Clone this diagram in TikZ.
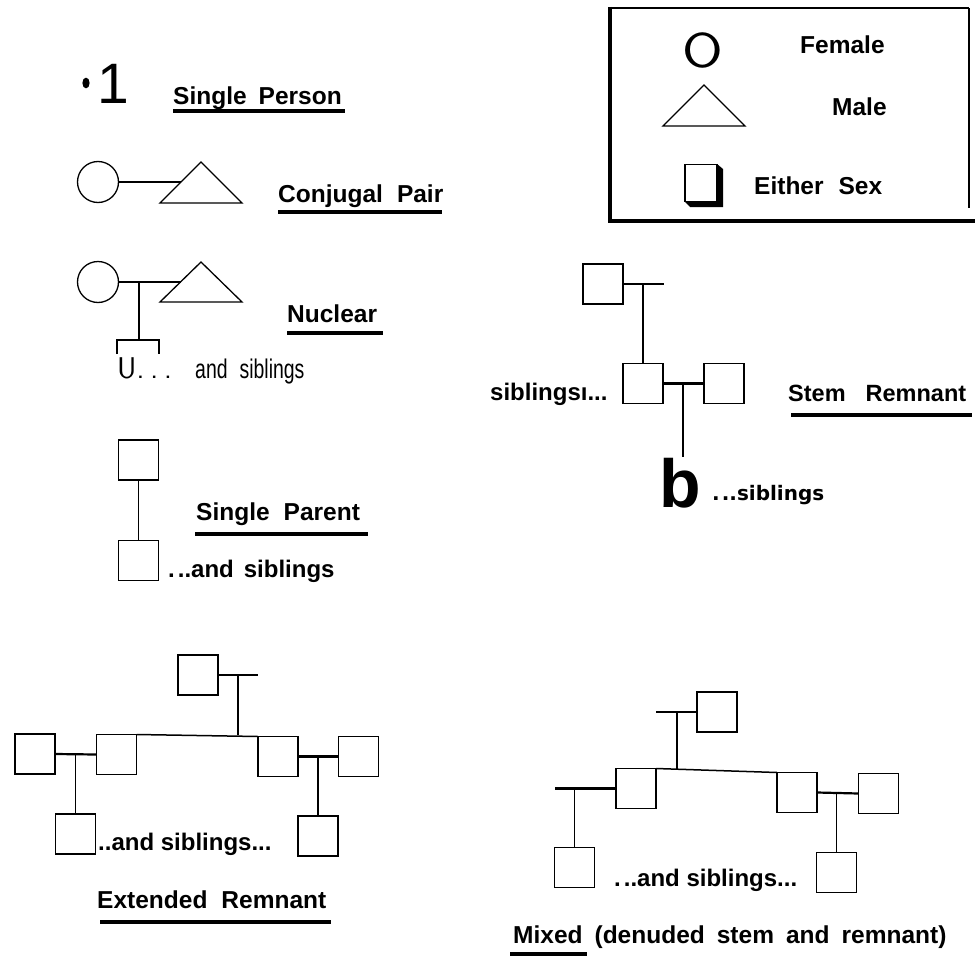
\documentclass[tikz,border=0pt]{standalone}
\usepackage{fontspec}
\setmainfont{Liberation Sans}
\newfontfamily\condfont{Liberation Sans}[FakeStretch=0.72]
\newfontfamily\dvfont{DejaVu Sans}
\begin{document}
\begin{tikzpicture}[x=1pt,y=-1pt,
 sq/.style={draw,line width=1.8pt,minimum size=40pt,inner sep=0pt,outer sep=0pt},
 fem/.style={draw,circle,line width=1.3pt,minimum size=41pt,inner sep=0pt,outer sep=0pt},
 shapeline/.style={draw,line width=1.3pt,line join=miter},
 conn/.style={line width=1.5pt},
 bond/.style={line width=2.2pt},
 lbl/.style={inner sep=0pt,anchor=base west,font=\fontsize{24.5}{28}\selectfont\bfseries},
 txt/.style={inner sep=0pt,anchor=base west,font=\fontsize{24}{28}\selectfont\bfseries},
 uline/.style={line width=3.6pt},
]
\useasboundingbox (0,0) rectangle (977,958);

% ---------- legend ----------
\draw[line width=1.5pt] (610,8) -- (969,8);
\draw[line width=4pt] (610,7) -- (610,223);
\draw[line width=2pt] (969,8) -- (969,208);
\draw[line width=4pt] (608,221) -- (975,221);
\node[inner sep=0pt,anchor=base west,font=\sffamily\fontsize{49}{50}\selectfont] (lgF) at (682,67) {\scalebox{1.2}[1]{O}};
\node[lbl] (lgFt) at (800,53) {Female};
\draw[shapeline] (663,126) -- (704,85) -- (745,126) -- cycle;
\node[lbl] (lgMt) at (832,115) {Male};
\fill (717,164) -- (723,169) -- (723,207) -- (690,207) -- (685,202) -- (717,202) -- cycle;
\node[sq,minimum width=32pt,minimum height=37pt] (lgS) at (701,183) {};
\node[lbl,font=\fontsize{24.5}{28}\selectfont\bfseries] (lgSt) at (754,194) {Either\hspace{15pt}Sex};

% ---------- single person ----------
\fill (86,83) ellipse [x radius=3.6, y radius=5.4];
\node[inner sep=0pt,anchor=base west,font=\fontsize{57}{60}\selectfont] (one) at (97,103) {1};
\node[lbl] (sp) at (173,104) {Single\hspace{12pt}Person};
\draw[uline] (173,111) -- (345,111);

% ---------- conjugal pair ----------
\node[fem] (cf) at (98,182) {};
\draw[shapeline] (160,203) -- (201,162) -- (242,203) -- cycle;
\coordinate (cm) at (181,182);
\draw[bond] (cf.east) -- (cm);
\node[lbl] (cp) at (278,202) {Conjugal\hspace{14pt}Pair};
\draw[uline] (278,212) -- (442,212);

% ---------- nuclear ----------
\node[fem] (nf) at (98,282) {};
\draw[shapeline] (160,302) -- (201,262) -- (242,302) -- cycle;
\coordinate (nm) at (181,282);
\draw[bond] (nf.east) -- (nm);
\coordinate (nj) at (139,282);
\coordinate (nc) at (139,340);
\draw[conn] (nj) -- (nc);
\draw[conn] (117,354) -- (117,340) -- (159,340) -- (159,354);
\node[inner sep=0pt,anchor=base west,font=\sffamily\fontsize{30}{32}\selectfont] (nu) at (117,378) {U.\hspace{6pt}.\hspace{6pt}.};
\node[inner sep=0pt,anchor=base west,font=\condfont\fontsize{27}{30}\selectfont] (ns) at (195,378) {and\hspace{12pt}siblings};
\node[lbl] (nl) at (287,322) {Nuclear};
\draw[uline] (287,333) -- (383,333);

% ---------- single parent ----------
\node[sq] (p1) at (138.5,460) {};
\node[sq] (p2) at (138.5,560.5) {};
\draw[conn] (p1) -- (p2);
\node[lbl] (spl) at (196,520) {Single\hspace{14pt}Parent};
\draw[uline] (195,534) -- (368,534);
\node[txt] (sps) at (168,577) {.\hspace{3pt}..and\hspace{10pt}siblings};

% ---------- stem remnant ----------
\node[sq] (s1) at (603,284) {};
\node[sq] (s2) at (643,383.5) {};
\node[sq] (s3) at (724,383.5) {};
\coordinate (s1r) at (664,284);
\draw[conn] (s1.east) -- (s1r);
\draw[conn] (s2.north) -- (s2.north |- s1.east);
\draw[bond] (s2.east) -- (s3.west);
\coordinate (sj) at (683,383.5);
\coordinate (sb) at (683,457);
\draw[conn] (sj) -- (sb);
\node[txt] (ssl) at (490,400) {siblingsı...};
\node[inner sep=0pt,anchor=base west,font=\fontsize{68}{68}\selectfont\bfseries] (sbb) at (659,507) {b};
\node[inner sep=0pt,anchor=base west,font=\dvfont\fontsize{20}{22}\selectfont\bfseries] (ssr) at (712,500) {.\hspace{2pt}..siblings};
\node[lbl,font=\fontsize{23.5}{28}\selectfont\bfseries] (st) at (788,401) {Stem\hspace{20pt}Remnant};
\draw[uline] (791,415) -- (972,415);

% ---------- extended remnant ----------
\node[sq] (et) at (198,675) {};
\coordinate (etr) at (258,675);
\draw[conn] (et.east) -- (etr);
\node[sq] (e1) at (35,754) {};
\node[sq] (e2) at (116.5,754.5) {};
\node[sq] (e3) at (278,756.5) {};
\node[sq] (e5) at (358.5,756.5) {};
\node[sq] (e4) at (75.5,834) {};
\node[sq] (e6) at (318,836) {};
\draw[conn] (e2.north east) -- (e3.north west);
\coordinate (ej) at (238,675);
\coordinate (ejb) at (238,735);
\draw[conn] (ej) -- (ejb);
\draw[bond] (e1.east) -- (e2.west);
\draw[conn] (e4.north) -- (e4.north |- e1.east);
\draw[bond] (e3.east) -- (e5.west);
\draw[conn] (e6.north) -- (e6.north |- e3.east);
\node[txt] (es) at (98,850) {..and siblings...};
\node[lbl] (el) at (97,908) {Extended\hspace{14pt}Remnant};
\draw[uline] (100,922) -- (331,922);

% ---------- mixed ----------
\node[sq] (mt) at (717,712) {};
\coordinate (mtl) at (656,712);
\draw[bond] (mt.west) -- (mtl);
\coordinate (mj) at (677,712);
\coordinate (mjb) at (677,769);
\draw[conn] (mj) -- (mjb);
\node[sq] (ma) at (636,788.5) {};
\node[sq] (mb) at (797,792.5) {};
\node[sq] (mc) at (878.5,793.5) {};
\node[sq] (md) at (836.5,872.5) {};
\node[sq] (me) at (574.5,867.5) {};
\draw[conn] (ma.north east) -- (mb.north west);
\coordinate (mal) at (555,788.5);
\draw[bond] (ma.west) -- (mal);
\draw[conn] (me.north) -- (me.north |- ma.west);
\draw[bond] (mb.east) -- (mc.west);
\draw[conn] (md.north) -- (md.north |- mb.east);
\node[txt] (ms) at (614,886) {.\hspace{3pt}..and siblings...};
\node[lbl] (ml) at (513,943) {Mixed\hspace{12pt}(denuded\hspace{12pt}stem\hspace{12pt}and\hspace{12pt}remnant)};
\draw[uline] (510,954) -- (587,954);
\end{tikzpicture}
\end{document}
